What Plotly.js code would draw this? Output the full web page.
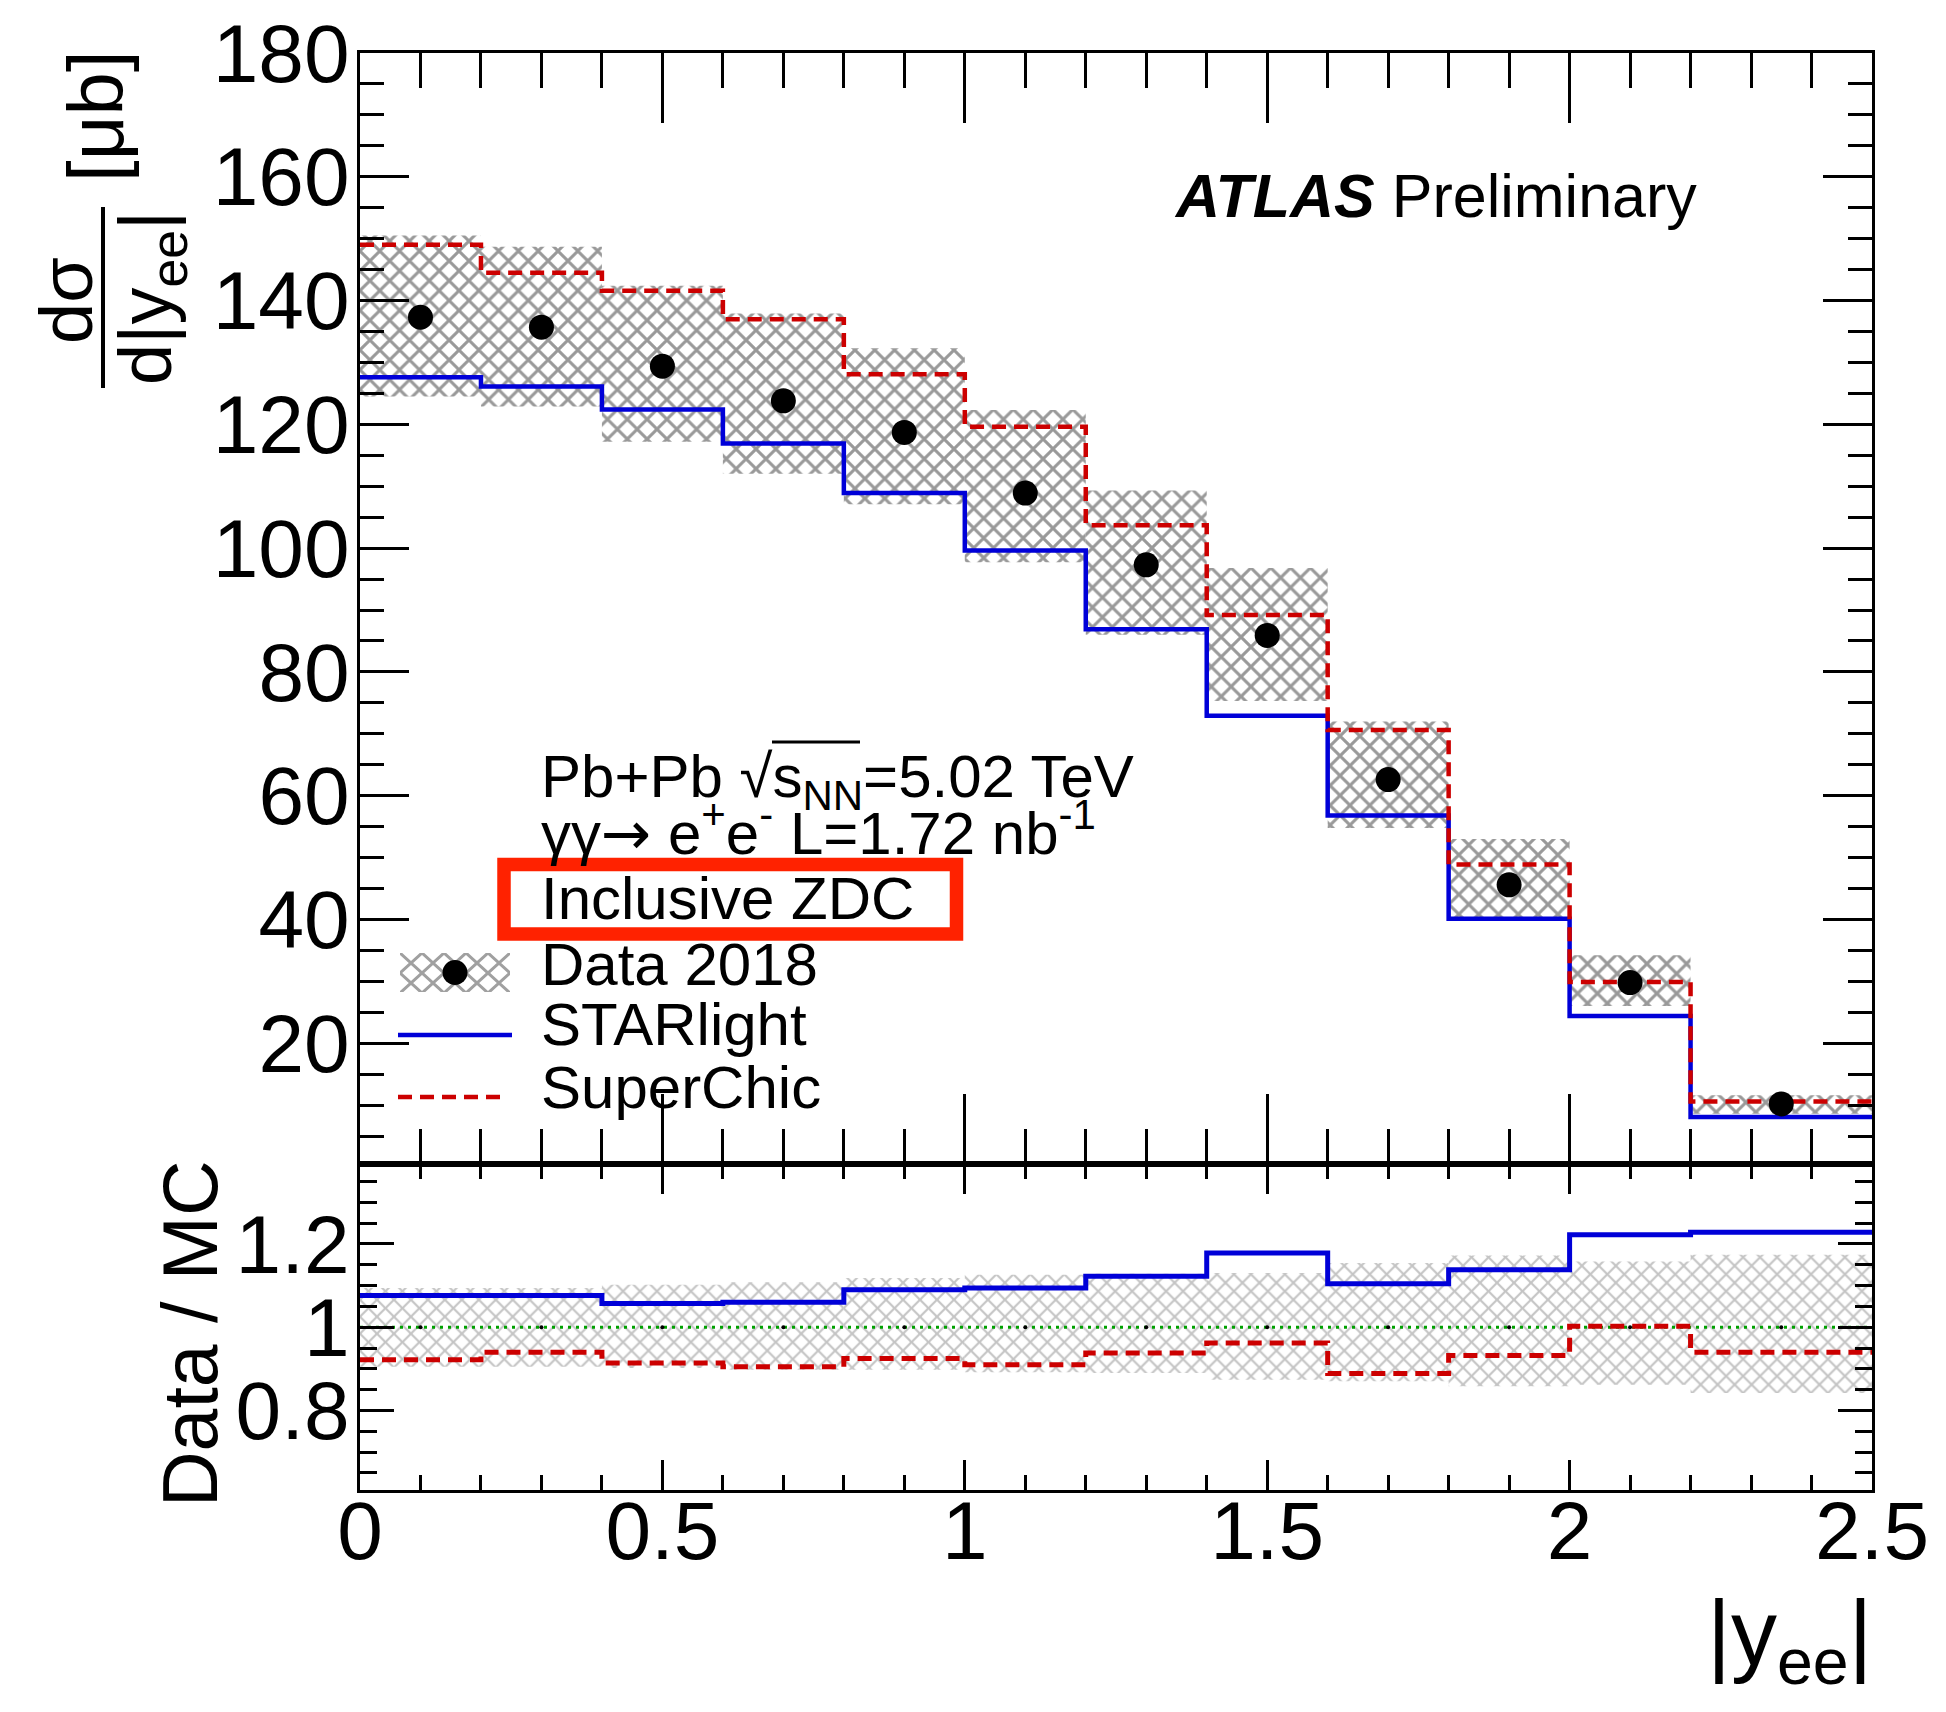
<!DOCTYPE html>
<html>
<head>
<meta charset="utf-8">
<script src="https://cdn.plot.ly/plotly-3.0.1.min.js"></script>
<style>
  html, body { margin: 0; padding: 0; background: #ffffff; }
  #chart { width: 1946px; height: 1712px; }
</style>
</head>
<body>
<div id="chart"></div>
<script>
// ---------------- data ----------------
const binEdges = [0, 0.2, 0.4, 0.6, 0.8, 1.0, 1.2, 1.4, 1.6, 1.8, 2.0, 2.2, 2.5];
const binCenters = [0.1, 0.3, 0.5, 0.7, 0.9, 1.1, 1.3, 1.5, 1.7, 1.9, 2.1, 2.35];

// d sigma / d|y_ee|  [micro barn]
const dataXsec      = [137.3, 135.7, 129.4, 123.8, 118.7, 108.9, 97.3, 85.9, 62.6, 45.6, 29.8, 10.2];
const dataBandLow   = [124.5, 122.9, 117.2, 112.0, 107.1, 97.7, 86.0, 75.3, 54.8, 40.1, 26.0, 8.6];
const dataBandHigh  = [150.5, 148.7, 142.4, 137.9, 132.3, 122.3, 109.3, 96.8, 72.0, 53.0, 34.2, 11.6];
const starlight     = [127.6, 126.1, 122.4, 116.9, 108.9, 99.6, 86.9, 72.9, 56.8, 40.1, 24.4, 8.1];
const superchic     = [149.0, 144.5, 141.6, 137.0, 128.1, 119.6, 103.7, 89.2, 70.6, 48.9, 29.9, 10.6];

// Data / MC
const ratioStarlight = [1.076, 1.076, 1.057, 1.060, 1.090, 1.094, 1.122, 1.178, 1.104, 1.138, 1.222, 1.228];
const ratioSuperchic = [0.922, 0.940, 0.914, 0.905, 0.925, 0.910, 0.938, 0.962, 0.889, 0.932, 1.002, 0.940];
const ratioBandLow   = [0.905, 0.905, 0.902, 0.898, 0.898, 0.892, 0.890, 0.874, 0.870, 0.858, 0.862, 0.842];
const ratioBandHigh  = [1.094, 1.094, 1.102, 1.108, 1.118, 1.126, 1.128, 1.130, 1.154, 1.172, 1.158, 1.174];
const ratioData      = [1, 1, 1, 1, 1, 1, 1, 1, 1, 1, 1, 1];
const ratioReference = [1, 1];

// ---------------- helpers ----------------
const FONT = 'Liberation Sans, Arial, Helvetica, sans-serif';
const L = 360, R = 1872, T = 53, B = 1490;       // plot area in pixels
const px = x => (x - L) / (R - L);
const py = y => (B - y) / (B - T);
const splitY = 0.2269;                            // main / ratio boundary

const nb = binCenters.length;
const barX = [], barW = [];
for (let i = 0; i < nb; i++) {
  barX.push((binEdges[i] + binEdges[i + 1]) / 2);
  barW.push(binEdges[i + 1] - binEdges[i]);
}
const stepY = arr => arr.concat([arr[arr.length - 1]]);
const diff = (hi, lo) => hi.map((v, i) => v - lo[i]);

const BLUE = '#0000d8', RED = '#cc0000', GREEN = '#00a000';

const traces = [
  // ---- main pad ----
  { type: 'bar', x: barX, width: barW, base: dataBandLow, y: diff(dataBandHigh, dataBandLow),
    xaxis: 'x', yaxis: 'y', hoverinfo: 'skip',
    marker: { color: 'rgba(0,0,0,0)', line: { width: 0 },
      pattern: { shape: 'x', fgcolor: '#999999', bgcolor: 'rgba(0,0,0,0)', size: 14, solidity: 0.38, fillmode: 'replace' } } },
  { type: 'scatter', mode: 'lines', x: binEdges, y: stepY(starlight), xaxis: 'x', yaxis: 'y',
    line: { shape: 'hv', color: BLUE, width: 4.5 } },
  { type: 'scatter', mode: 'lines', x: binEdges, y: stepY(superchic), xaxis: 'x', yaxis: 'y',
    line: { shape: 'hv', color: RED, width: 4.5, dash: '14px,8px' } },
  { type: 'scatter', mode: 'markers', x: binCenters, y: dataXsec, xaxis: 'x', yaxis: 'y',
    marker: { color: 'black', size: 25, symbol: 'circle' } },
  // ---- ratio pad ----
  { type: 'bar', x: barX, width: barW, base: ratioBandLow, y: diff(ratioBandHigh, ratioBandLow),
    xaxis: 'x2', yaxis: 'y2', hoverinfo: 'skip',
    marker: { color: 'rgba(0,0,0,0)', line: { width: 0 },
      pattern: { shape: 'x', fgcolor: '#c4c4c4', bgcolor: 'rgba(0,0,0,0)', size: 12, solidity: 0.32, fillmode: 'replace' } } },
  { type: 'scatter', mode: 'lines', x: [binEdges[0], binEdges[binEdges.length - 1]], y: ratioReference,
    xaxis: 'x2', yaxis: 'y2', line: { color: GREEN, width: 3, dash: '3px,5px' } },
  { type: 'scatter', mode: 'lines', x: binEdges, y: stepY(ratioStarlight), xaxis: 'x2', yaxis: 'y2',
    line: { shape: 'hv', color: BLUE, width: 5 } },
  { type: 'scatter', mode: 'lines', x: binEdges, y: stepY(ratioSuperchic), xaxis: 'x2', yaxis: 'y2',
    line: { shape: 'hv', color: RED, width: 5, dash: '14px,8px' } },
  { type: 'scatter', mode: 'markers', x: binCenters, y: ratioData, xaxis: 'x2', yaxis: 'y2',
    marker: { color: 'black', size: 4 } }
];

const tickFont = { family: FONT, size: 82, color: 'black' };
const axBase = {
  showline: true, linecolor: 'black', linewidth: 3, mirror: 'allticks',
  ticks: 'inside', tickwidth: 3, tickcolor: 'black', showgrid: false, zeroline: false,
  tickfont: tickFont, fixedrange: true
};

const legendSvg =
  "<svg xmlns='http://www.w3.org/2000/svg' width='110' height='39' viewBox='0 0 110 39'>" +
  "<defs><pattern id='h' width='22' height='20' patternUnits='userSpaceOnUse'>" +
  "<path d='M0,0L22,20M22,0L0,20' stroke='#a0a0a0' stroke-width='3'/></pattern></defs>" +
  "<rect x='0' y='0' width='110' height='39' fill='url(#h)'/>" +
  "<circle cx='55' cy='19.5' r='12.5' fill='black'/></svg>";

const ann = (text, x, y, size, opts) => Object.assign({
  text: text, x: px(x), y: py(y), xref: 'paper', yref: 'paper', showarrow: false,
  font: { family: FONT, size: size, color: 'black' }, xanchor: 'left', yanchor: 'middle'
}, opts || {});

const layout = {
  width: 1946, height: 1712,
  margin: { l: L, r: 1946 - R, t: T, b: 1712 - B, pad: 0 },
  paper_bgcolor: 'white', plot_bgcolor: 'white',
  showlegend: false, barmode: 'overlay',
  xaxis: Object.assign({}, axBase, {
    domain: [0, 1], anchor: 'y', range: [0, 2.5], showticklabels: false,
    tick0: 0, dtick: 0.5, ticklen: 70,
    minor: { dtick: 0.1, ticklen: 35, tickwidth: 3, tickcolor: 'black', ticks: 'inside' }
  }),
  yaxis: Object.assign({}, axBase, {
    domain: [splitY, 1], anchor: 'x', range: [0.5, 180],
    tick0: 0, dtick: 20, ticklen: 49, ticklabelstandoff: -9,
    minor: { dtick: 5, ticklen: 24, tickwidth: 3, tickcolor: 'black', ticks: 'inside' }
  }),
  xaxis2: Object.assign({}, axBase, {
    domain: [0, 1], anchor: 'y2', range: [0, 2.5],
    tick0: 0, dtick: 0.5, ticklen: 30, ticklabelstandoff: -32,
    minor: { dtick: 0.1, ticklen: 15, tickwidth: 3, tickcolor: 'black', ticks: 'inside' }
  }),
  yaxis2: Object.assign({}, axBase, {
    domain: [0, splitY], anchor: 'x2', range: [0.609, 1.392],
    tick0: 0.6, dtick: 0.2, ticklen: 34, ticklabelstandoff: -9,
    minor: { dtick: 0.05, ticklen: 17, tickwidth: 3, tickcolor: 'black', ticks: 'inside' }
  }),
  annotations: [
    ann('<b><i>ATLAS</i></b> Preliminary', 1172, 196, 61),
    ann('Pb+Pb √s<sub>NN</sub>=5.02 TeV', 539, 741, 60, { yanchor: 'top' }),
    ann('γγ<span style="font-family:DejaVu Sans">→</span> e<sup>+</sup>e<sup>-</sup> L=1.72 nb<sup>-1</sup>', 539, 870, 60, { yanchor: 'bottom' }),
    ann('Inclusive ZDC', 539, 899, 60),
    ann('Data 2018', 539, 964, 60),
    ann('STARlight', 539, 1024, 60),
    ann('SuperChic', 539, 1087, 60),
    // y title (fraction) of the main pad
    ann('dσ', 66, 301, 74, { xanchor: 'center', textangle: -90 }),
    ann('d|y<sub>ee</sub>|', 151, 298, 74, { xanchor: 'center', textangle: -90 }),
    ann('[μb]', 96, 116, 78, { xanchor: 'center', textangle: -90 }),
    // ratio y title
    ann('Data / MC', 190, 1334, 77, { xanchor: 'center', textangle: -90 }),
    // x title
    ann('|y<sub>ee</sub>|', 1874, 1580, 92, { xanchor: 'right', yanchor: 'top' })
  ],
  shapes: [
    // fraction bar of the y title
    { type: 'line', xref: 'paper', yref: 'paper', x0: px(103), x1: px(103), y0: py(207), y1: py(388),
      line: { color: 'black', width: 4 } },
    // overline of the square root
    { type: 'line', xref: 'paper', yref: 'paper', x0: px(772), x1: px(860), y0: py(742), y1: py(742),
      line: { color: 'black', width: 3 } },
    // red highlight box
    { type: 'rect', xref: 'paper', yref: 'paper', x0: px(504), x1: px(956.5), y0: py(864.5), y1: py(934),
      line: { color: '#ff2200', width: 13.5 }, fillcolor: 'rgba(0,0,0,0)' },
    // legend keys
    { type: 'line', xref: 'paper', yref: 'paper', x0: px(398), x1: px(512), y0: py(1035), y1: py(1035),
      line: { color: BLUE, width: 4.5 } },
    { type: 'line', xref: 'paper', yref: 'paper', x0: px(398), x1: px(508), y0: py(1097), y1: py(1097),
      line: { color: RED, width: 4.5, dash: '14px,8px' } }
  ],
  images: [
    { source: 'data:image/svg+xml;charset=utf-8,' + encodeURIComponent(legendSvg),
      xref: 'paper', yref: 'paper', x: px(400), y: py(953),
      sizex: (510 - 400) / (R - L), sizey: (992 - 953) / (B - T),
      xanchor: 'left', yanchor: 'top', sizing: 'stretch', layer: 'above' }
  ]
};

Plotly.newPlot('chart', traces, layout, { displayModeBar: false, staticPlot: true });
</script>
</body>
</html>
